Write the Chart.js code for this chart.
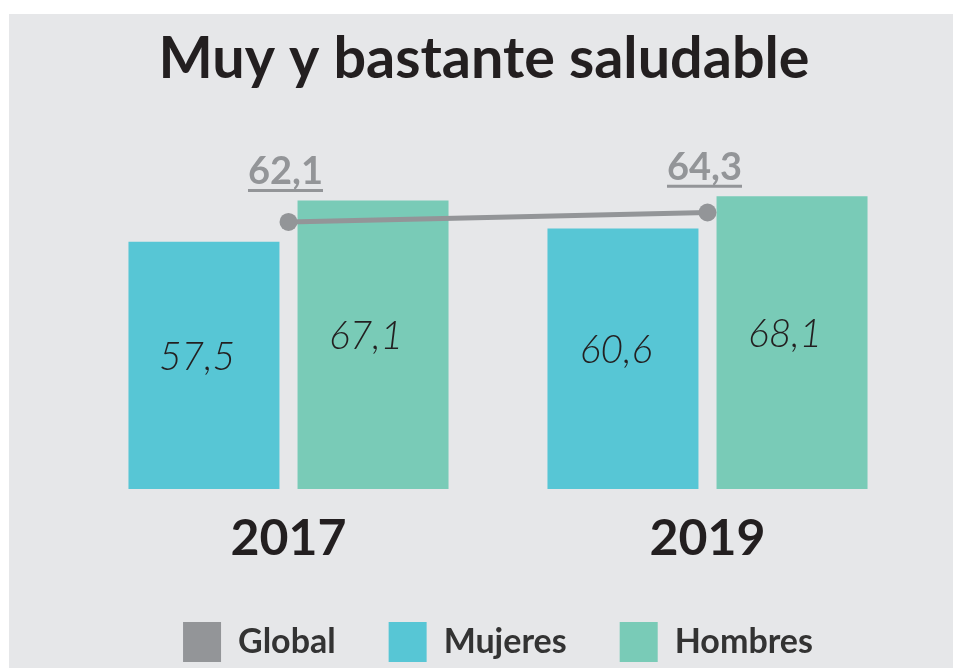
<!DOCTYPE html>
<html>
<head>
<meta charset="utf-8">
<script src="https://cdn.jsdelivr.net/npm/chart.js@4/dist/chart.umd.min.js"></script>
<style>
  html, body { margin: 0; padding: 0; background: #fff; overflow: hidden; }
  #wrap { position: absolute; left: 9px; top: 14px; width: 944px; height: 658px; background: #e6e7e9; }
</style>
</head>
<body>
<div id="wrap"><canvas id="chart"></canvas></div>
<script>
const years = ["2017", "2019"];
const global = [62.1, 64.3];
const mujeres = [57.5, 60.6];
const hombres = [67.1, 68.1];

const GRAY = "#939598";
const CYAN = "#57c6d5";
const GREEN = "#79cbb7";
const DARK = "#231f20";

function fmt(v) {
    return v.toFixed(1).replace(".", ",");
}

// etiquetas de barras y de la linea global
const labelsPlugin = {
    id: "labels",
    afterDatasetsDraw(chart) {
        const ctx = chart.ctx;
        ctx.save();
        ctx.textAlign = "center";
        ctx.textBaseline = "middle";
        ctx.fillStyle = DARK;
        ctx.font = "italic 300 39px Lato";
        [1, 2].forEach(di => {
            chart.getDatasetMeta(di).data.forEach((bar, i) => {
                let v = chart.data.datasets[di].data[i];
                let y = (bar.y + bar.base) / 2 - 8;
                ctx.fillText(fmt(v), bar.x - 7, y);
            });
        });

        // valores globales, subrayados
        let yScale = chart.scales.y;
        ctx.font = "bold 38px Lato";
        ctx.fillStyle = GRAY;
        ctx.strokeStyle = GRAY;
        ctx.lineWidth = 3;
        ctx.textBaseline = "alphabetic";
        chart.getDatasetMeta(0).data.forEach((pt, i) => {
            let top = yScale.getPixelForValue(Math.max(mujeres[i], hombres[i]));
            let txt = fmt(global[i]);
            let x = pt.x - 3;
            let base = top - 16;
            ctx.fillText(txt, x, base);
            let w = ctx.measureText(txt).width;
            ctx.beginPath();
            ctx.moveTo(x - w / 2, base + 6);
            ctx.lineTo(x + w / 2, base + 6);
            ctx.stroke();
        });
        ctx.restore();
    }
};

new Chart(document.getElementById("chart").getContext("2d"), {
    type: "bar",
    data: {
        labels: years,
        datasets: [
            {
                type: "line",
                label: "Global",
                data: global,
                borderColor: GRAY,
                backgroundColor: GRAY,
                borderWidth: 5,
                pointRadius: 9,
                pointHoverRadius: 9,
                pointBackgroundColor: GRAY,
                pointBorderWidth: 0,
                order: 0
            },
            {
                label: "Mujeres",
                data: mujeres,
                backgroundColor: CYAN,
                order: 1
            },
            {
                label: "Hombres",
                data: hombres,
                backgroundColor: GREEN,
                order: 1
            }
        ]
    },
    options: {
        responsive: true,
        maintainAspectRatio: false,
        animation: false,
        categoryPercentage: 0.807,
        barPercentage: 0.893,
        layout: { padding: { left: 70, right: 36, top: 0, bottom: 0 } },
        plugins: {
            title: {
                display: true,
                text: "Muy y bastante saludable  ",
                color: DARK,
                font: { family: "Lato", size: 57.5, weight: "bold" },
                padding: { top: 11, bottom: 51 }
            },
            legend: {
                position: "bottom",
                labels: {
                    color: "#333333",
                    font: { family: "Lato", size: 34, weight: "bold" },
                    boxWidth: 38,
                    boxHeight: 40,
                    padding: 53,
                    generateLabels(chart) {
                        return chart.data.datasets.map((ds, i) => ({
                            text: ds.label,
                            fillStyle: ds.backgroundColor,
                            strokeStyle: ds.backgroundColor,
                            lineWidth: 0,
                            fontColor: "#333333",
                            datasetIndex: i
                        }));
                    }
                }
            },
            tooltip: { enabled: false }
        },
        scales: {
            x: {
                grid: { display: false, drawTicks: false },
                border: { display: false },
                ticks: {
                    color: DARK,
                    padding: 20,
                    font: { family: "Lato", size: 50, weight: "bold" }
                },
                afterFit(scale) {
                    scale.height = 80;
                }
            },
            y: {
                display: false,
                min: 0,
                max: 80
            }
        }
    },
    plugins: [labelsPlugin]
});
</script>
</body>
</html>
